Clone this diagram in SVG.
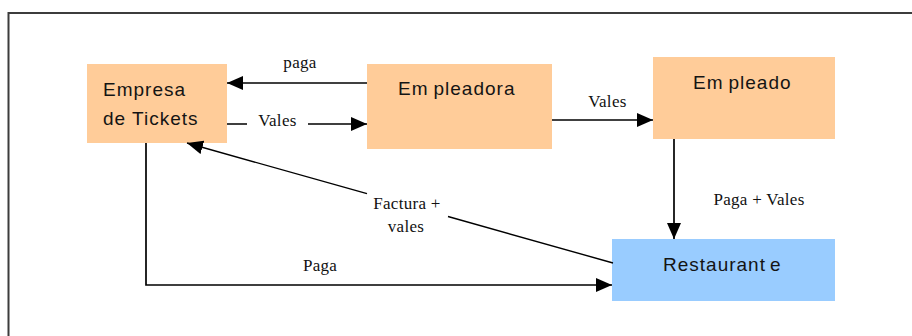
<svg xmlns="http://www.w3.org/2000/svg" width="912" height="336" viewBox="0 0 912 336">
  <style>
    .box { stroke: none; }
    .orange { fill: #FFCC99; }
    .blue { fill: #99CCFF; }
    .ntext { font-family: "Liberation Sans", Arial, sans-serif; font-size: 19px; fill: #141414; letter-spacing: 1px; }
    .ltext { font-family: "Liberation Serif", "Times New Roman", serif; font-size: 17px; fill: #111; letter-spacing: 0.3px; text-anchor: middle; }
    .conn { fill: none; stroke: #000; stroke-width: 1.7; }
    .thin { stroke-width: 1.4; }
  </style>
  <defs>
    <marker id="arrow" viewBox="0 0 16 14" refX="16" refY="7" markerWidth="16" markerHeight="14" markerUnits="userSpaceOnUse" orient="auto">
      <path d="M0,0 L16,7 L0,14 Z" fill="#000"/>
    </marker>
  </defs>
  <rect width="912" height="336" fill="#fff"/>
  <rect id="frame" x="8.5" y="13" width="1000" height="400" fill="none" stroke="#3c3c3c" stroke-width="2"/>

  <g id="empresa">
    <rect class="box orange" x="87" y="64" width="140" height="79"/>
    <text class="ntext" x="103" y="96">Empresa</text>
    <text class="ntext" x="103" y="125">de Tickets</text>
  </g>
  <g id="empleadora">
    <rect class="box orange" x="367" y="64" width="185" height="85"/>
    <text class="ntext" x="398" y="95">Em<tspan dx="5">pleadora</tspan></text>
  </g>
  <g id="empleado">
    <rect class="box orange" x="653" y="57" width="182" height="82"/>
    <text class="ntext" x="693" y="89">Em<tspan dx="5">pleado</tspan></text>
  </g>
  <g id="restaurante">
    <rect class="box blue" x="612" y="239" width="223" height="62"/>
    <text class="ntext" x="663" y="271">Restaurant<tspan dx="4">e</tspan></text>
  </g>

  <g id="connectors">
    <path class="conn" d="M367,83 H227" marker-end="url(#arrow)"/>
    <text class="ltext" x="300" y="68">paga</text>

    <path class="conn" d="M227,124 H247 M308,124 H367" marker-end="url(#arrow)"/>
    <text class="ltext" x="277.5" y="126">Vales</text>

    <path class="conn" d="M552,120 H653" marker-end="url(#arrow)"/>
    <text class="ltext" x="607.5" y="107">Vales</text>

    <path class="conn" d="M674,139 V239" marker-end="url(#arrow)"/>
    <text class="ltext" x="759" y="205">Paga + Vales</text>

    <path class="conn thin" d="M613,263 L448,216.5 M367,193.7 L187,143" marker-end="url(#arrow)"/>
    <text class="ltext" x="407" y="209">Factura +</text>
    <text class="ltext" x="406" y="232">vales</text>

    <path class="conn" d="M146,143 V285 H612" marker-end="url(#arrow)"/>
    <text class="ltext" x="320" y="271">Paga</text>
  </g>
</svg>
